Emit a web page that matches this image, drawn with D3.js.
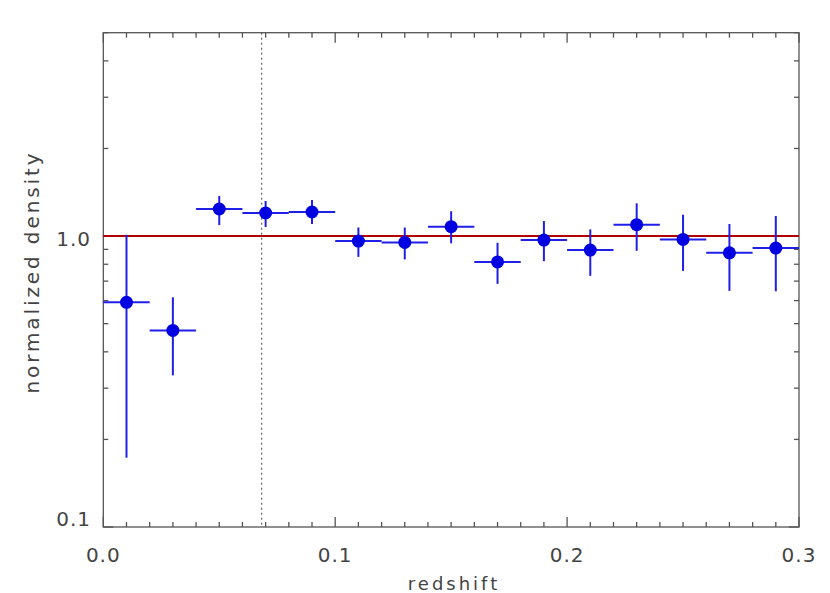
<!DOCTYPE html>
<html><head><meta charset="utf-8">
<script src="https://cdn.jsdelivr.net/npm/d3@7"></script>
<style>body{margin:0;background:#fff}text{font-family:"DejaVu Sans",sans-serif;fill:#444}</style>
</head><body><svg id="c" width="830" height="593"></svg>
<script>
const redshift = [0.01,0.03,0.05,0.07,0.09,0.11,0.13,0.15,0.17,0.19,0.21,0.23,0.25,0.27,0.29];
const density  = [0.592,0.474,1.239,1.20,1.21,0.961,0.951,1.077,0.815,0.969,0.895,1.094,0.974,0.876,0.909];
const errHigh  = [1.01,0.616,1.374,1.32,1.33,1.07,1.07,1.217,0.948,1.126,1.054,1.296,1.184,1.100,1.172];
const errLow   = [0.173,0.332,1.091,1.074,1.10,0.848,0.831,0.944,0.685,0.820,0.730,0.890,0.759,0.648,0.646];
const binHalf = 0.01;
const refLevel = 1.0;
const markerZ = 0.0683;
const xTickLabels = ["0.0","0.1","0.2","0.3"];
const yTickLabels = ["0.1","1.0"];

const L=103.3, R=799, T=32.7, B=527;
const svg = d3.select("#c");
const x = d3.scaleLinear().domain([0,0.3]).range([L,R]);
const y = d3.scaleLog().domain([0.1,5]).range([B,T]);

const xMinor = d3.range(0,0.3001,0.01).map(v=>+v.toFixed(2));
const yMinor = [];
[0.1,1].forEach(d=>{for(let k=1;k<10;k++){const v=+(d*k).toFixed(2); if(v>=0.1&&v<=5) yMinor.push(v);}});
const g = svg.append("g").attr("stroke","#555").attr("stroke-width",1.3);
xMinor.forEach(v=>{
  const major = Math.abs(v*10-Math.round(v*10))<1e-6;
  const len = major?10:5;
  g.append("line").attr("x1",x(v)).attr("x2",x(v)).attr("y1",B).attr("y2",B-len);
  g.append("line").attr("x1",x(v)).attr("x2",x(v)).attr("y1",T).attr("y2",T+len);
});
yMinor.forEach(v=>{
  const major = (v===0.1||v===1);
  const len = major?10:5;
  g.append("line").attr("y1",y(v)).attr("y2",y(v)).attr("x1",L).attr("x2",L+len);
  g.append("line").attr("y1",y(v)).attr("y2",y(v)).attr("x1",R).attr("x2",R-len);
});
g.append("rect").attr("x",L).attr("y",T).attr("width",R-L).attr("height",B-T).attr("fill","none");

xTickLabels.forEach(s=>{
  svg.append("text").attr("x",x(+s)).attr("y",562).attr("text-anchor","middle")
    .attr("font-size",20).attr("letter-spacing",1).text(s);
});
yTickLabels.forEach(s=>{
  svg.append("text").attr("x",91).attr("y",Math.min(y(+s)+9.5,B-1)).attr("text-anchor","end")
    .attr("font-size",20).attr("letter-spacing",1).text(s);
});
svg.append("text").attr("transform","translate(39,272) rotate(-90)").attr("text-anchor","middle")
  .attr("font-size",20).attr("letter-spacing",2.9).text("normalized density");
svg.append("text").attr("x",454).attr("y",590).attr("text-anchor","middle")
  .attr("font-size",18).attr("letter-spacing",3).text("redshift");

svg.append("line").attr("x1",x(markerZ)).attr("x2",x(markerZ)).attr("y1",T).attr("y2",B)
  .attr("stroke","#444").attr("stroke-width",1).attr("stroke-dasharray","2,3");

svg.append("line").attr("x1",L).attr("x2",R).attr("y1",y(refLevel)).attr("y2",y(refLevel))
  .attr("stroke","#b00000").attr("stroke-width",2);

const pg = svg.append("g");
redshift.forEach((z,i)=>{
  pg.append("line").attr("x1",x(z-binHalf)).attr("x2",x(z+binHalf)).attr("y1",y(density[i])).attr("y2",y(density[i]))
    .attr("stroke","#1f1fe8").attr("stroke-width",2);
  pg.append("line").attr("x1",x(z)).attr("x2",x(z)).attr("y1",y(errLow[i])).attr("y2",y(errHigh[i]))
    .attr("stroke","#1f1fe8").attr("stroke-width",2);
  pg.append("circle").attr("cx",x(z)).attr("cy",y(density[i])).attr("r",6.5).attr("fill","#0000e0");
});
</script></body></html>
